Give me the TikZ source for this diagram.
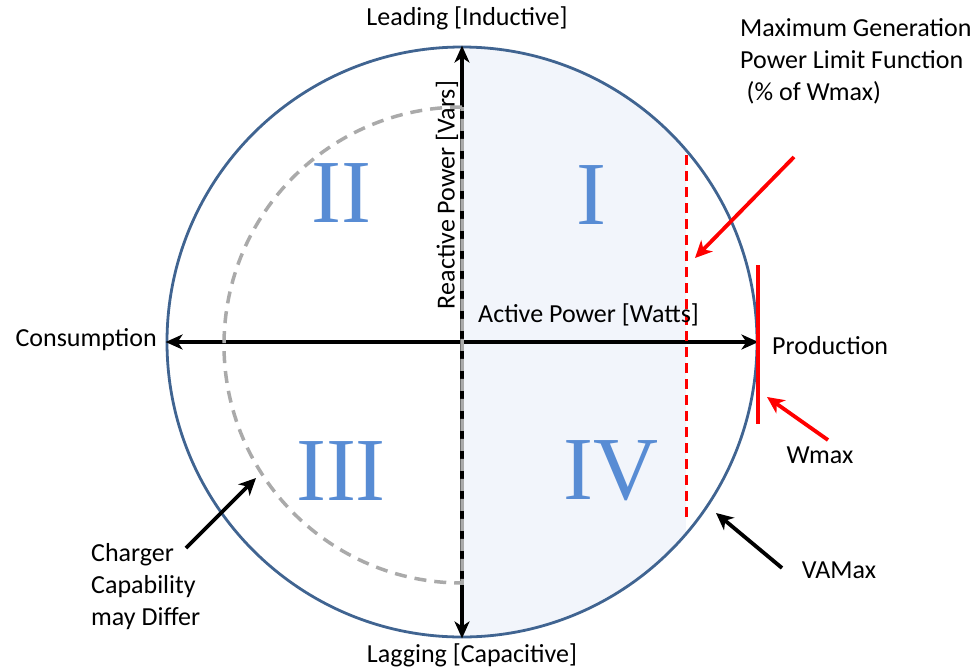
\documentclass[tikz,border=0pt]{standalone}
\usepackage{fontspec}
\setmainfont{Carlito}
\newfontfamily\numfont{Liberation Serif}
\usepackage{tikz}
\usepackage{xcolor}
\usetikzlibrary{arrows.meta, positioning, calc}

\definecolor{rimblue}{RGB}{64,100,145}
\definecolor{shadeblue}{RGB}{242,245,251}
\definecolor{numblue}{RGB}{88,140,212}
\definecolor{chargegray}{RGB}{170,170,170}

\tikzset{
  txt/.style={font=\fontsize{26}{32}\selectfont, inner sep=0pt, align=left},
  quadrant/.style={font=\numfont\fontsize{90}{90}\selectfont, text=numblue, inner sep=0pt},
  axis/.style={line width=3.2pt, {Stealth[length=17pt,width=15pt,inset=5pt]}-{Stealth[length=17pt,width=15pt,inset=5pt]}},
  pointer/.style={line width=3.8pt, -{Stealth[length=17pt,width=16pt,inset=5pt]}},
}

\begin{document}
\begin{tikzpicture}[x=1pt,y=-1pt]
\useasboundingbox (0,0) rectangle (979,670);
% shaded area up to the power limit
\begin{scope}
\clip (462,342) circle (295pt);
\fill[shadeblue] (462,0) rectangle (686,700);
\end{scope}
\node[circle, draw=rimblue, line width=2.8pt, minimum size=590pt, inner sep=0pt] (vamax) at (462,342) {};

% axes
\draw[axis] (vamax.west) -- (vamax.east);
\draw[axis] (vamax.north) -- (vamax.south);

% charger capability
\draw[chargegray, line width=3.5pt, dash pattern=on 12pt off 8pt] (462,107) arc[start angle=90, end angle=270, radius=238pt] -- cycle;

% power limit and Wmax
\coordinate (limtop) at (686,155);
\coordinate (limbot) at (686,521);
\draw[red, line width=3pt, dash pattern=on 10pt off 6pt] (limtop) -- (limbot);
\coordinate (wtop) at (758,265);
\coordinate (wbot) at (758,424);
\draw[red, line width=3.2pt] (wtop) -- (wbot);

% quadrants
\foreach \q/\x/\y in {I/591/195, II/341/193, III/341/471, IV/611/471}
  \node[quadrant] (q\q) at (\x,\y) {\q};

% labels
\node[txt] (leading) at (467,18) {Leading [Inductive]};
\node[txt] (lagging) at (472,655) {Lagging [Capacitive]};
\node[txt, anchor=east] (consume) at (157,340) {Consumption};
\node[txt, anchor=west] (produce) at (772,346) {Production};
\node[txt, anchor=west] (active) at (478,315) {Active Power [Watts]};
\node[txt, rotate=90] (reactive) at (447,195) {Reactive Power [Vars]};
\node[txt, anchor=north west] (maxgen) at (740,18) {Maximum Generation\\Power Limit Function\\\hspace*{0.25em}(\% of Wmax)};
\node[txt] (wmax) at (820,455) {Wmax};
\node[txt] (vamaxlbl) at (839,570) {VAMax};
\node[txt, anchor=north west] (charger) at (91,543) {Charger\\Capability\\may Differ};

% pointers
\coordinate (maxtail) at (794,157);
\coordinate (maxtip) at (695,258);
\draw[pointer, red] (maxtail) -- (maxtip);
\coordinate (wtail) at (828,440);
\coordinate (wtip) at (767,397);
\draw[pointer, red] (wtail) -- (wtip);
\coordinate (vtail) at (782,568);
\coordinate (vtip) at (716,513);
\draw[pointer] (vtail) -- (vtip);
\coordinate (ctail) at (186,548);
\coordinate (ctip) at (256,478);
\draw[pointer] (ctail) -- (ctip);
\end{tikzpicture}
\end{document}
